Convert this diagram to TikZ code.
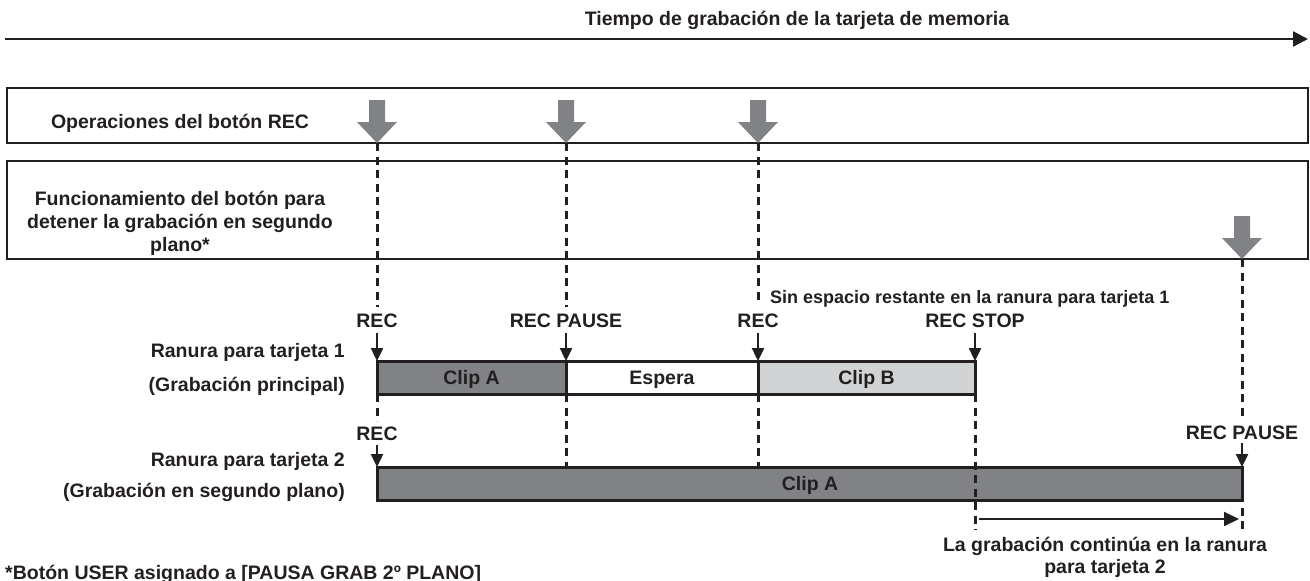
\documentclass[tikz,border=0pt]{standalone}
\usepackage{fontspec}
\setmainfont{Liberation Sans}
\usetikzlibrary{arrows.meta}
\definecolor{ink}{RGB}{35,31,32}
\definecolor{midgray}{RGB}{128,130,133}
\definecolor{palegray}{RGB}{209,211,212}
\begin{document}
\begin{tikzpicture}[x=1pt,y=-1pt,
  lbl/.style={font=\bfseries\fontsize{19.5}{23}\selectfont, text=ink, inner sep=0pt, anchor=base},
  lblr/.style={lbl, anchor=base east},
  lbll/.style={lbl, anchor=base west},
  panel/.style={draw=ink, line width=2pt},
  barline/.style={draw=ink, line width=3pt},
  guide/.style={draw=ink, line width=3pt, dash pattern=on 8pt off 5.5pt},
  tick/.style={draw=ink, line width=2.4pt, -{Triangle[length=13pt,width=12pt]}},
  pics/bigdown/.style={code={
    \fill[midgray] (-8,-43) -- (8,-43) -- (8,-21) -- (20,-21) -- (0,0) -- (-20,-21) -- (-8,-21) -- cycle;}}
]
\useasboundingbox (0,0) rectangle (1310,581);

% timeline
\node[lbl] (title) at (797,25) {Tiempo de grabación de la tarjeta de memoria};
\coordinate (tl0) at (5,39);
\coordinate (tl1) at (1308,39);
\draw[ink, line width=2.6pt, -{Triangle[length=15pt,width=15pt]}] (tl0) -- (tl1);

% panels
\draw[panel] (7,88) rectangle (1308,143);
\draw[panel] (7,161) rectangle (1308,259);
\node[lbl] (ops) at (180,128) {Operaciones del botón REC};
\node[lbl] (fn1) at (180,205) {Funcionamiento del botón para};
\node[lbl] (fn2) at (180,228) {detener la grabación en segundo};
\node[lbl] (fn3) at (180,251) {plano*};

% key coordinates
\coordinate (p1) at (377,143);
\coordinate (p2) at (566,143);
\coordinate (p3) at (758,143);
\coordinate (p4) at (1242,259);

% bars
\draw[barline, fill=midgray] (377,361) rectangle (566,394);
\draw[barline, fill=white] (566,361) rectangle (758,394);
\draw[barline, fill=palegray] (758,361) rectangle (975,394);
\draw[barline, fill=midgray] (377,467) rectangle (1242,500);
\node[lbl] (clipA1) at (471.5,384.5) {Clip A};
\node[lbl] (espera) at (662,384.5) {Espera};
\node[lbl] (clipB) at (866.5,384.5) {Clip B};
\node[lbl] (clipA2) at (810,490.5) {Clip A};

% slot labels
\node[lblr] (s1a) at (345,357) {Ranura para tarjeta 1};
\node[lblr] (s1b) at (345,391) {(Grabación principal)};
\node[lblr] (s2a) at (345,466) {Ranura para tarjeta 2};
\node[lblr] (s2b) at (345,497) {(Grabación en segundo plano)};

% event labels
\node[lbl] (rec1) at (377,327) {REC};
\node[lbl] (rp1) at (566,327) {REC PAUSE};
\node[lbl] (rec2) at (758,327) {REC};
\node[lbl] (rstop) at (975,327) {REC STOP};
\node[lbll, font=\bfseries\fontsize{18}{21}\selectfont] (full) at (770,303) {Sin espacio restante en la ranura para tarjeta 1};
\node[lbl] (rec3) at (377,440) {REC};
\node[lbl] (rp2) at (1242,439) {REC PAUSE};

% guide end points
\coordinate (g1) at (377,307);
\coordinate (g2) at (566,307);
\coordinate (g3) at (758,300);
\coordinate (g4) at (1242,418);
\coordinate (h1a) at (377,394); \coordinate (h1b) at (377,421);
\coordinate (h2a) at (566,394); \coordinate (h2b) at (566,467);
\coordinate (h3a) at (758,394); \coordinate (h3b) at (758,467);
\coordinate (h4a) at (975,394); \coordinate (h4b) at (975,530);
\coordinate (h5a) at (1242,467); \coordinate (h5b) at (1242,530);

\draw[guide] (p1) -- (g1);
\draw[guide] (p2) -- (g2);
\draw[guide] (p3) -- (g3);
\draw[guide] (p4) -- (g4);
\draw[guide] (h1a) -- (h1b);
\draw[guide] (h2a) -- (h2b);
\draw[guide] (h3a) -- (h3b);
\draw[guide] (h4a) -- (h4b);
\draw[guide] (h5a) -- (h5b);

% big gray arrows
\pic at (p1) {bigdown};
\pic at (p2) {bigdown};
\pic at (p3) {bigdown};
\pic at (p4) {bigdown};

% small event arrows
\coordinate (a1s) at (377,333); \coordinate (a1e) at (377,361);
\coordinate (a2s) at (566,333); \coordinate (a2e) at (566,361);
\coordinate (a3s) at (758,333); \coordinate (a3e) at (758,361);
\coordinate (a4s) at (975,333); \coordinate (a4e) at (975,361);
\coordinate (a5s) at (377,445); \coordinate (a5e) at (377,467);
\coordinate (a6s) at (1242,443); \coordinate (a6e) at (1242,467);
\draw[tick] (a1s) -- (a1e);
\draw[tick] (a2s) -- (a2e);
\draw[tick] (a3s) -- (a3e);
\draw[tick] (a4s) -- (a4e);
\draw[tick] (a5s) -- (a5e);
\draw[tick] (a6s) -- (a6e);

% continuation
\coordinate (c0) at (979,519);
\coordinate (c1) at (1239,519);
\draw[ink, line width=2pt, -{Triangle[length=15pt,width=14pt]}] (c0) -- (c1);
\node[lbl] (cont1) at (1105,551) {La grabación continúa en la ranura};
\node[lbl] (cont2) at (1105,573) {para tarjeta 2};

% footnote
\node[lbll] (note) at (5,579) {*Botón USER asignado a [PAUSA GRAB 2º PLANO]};
\end{tikzpicture}
\end{document}
